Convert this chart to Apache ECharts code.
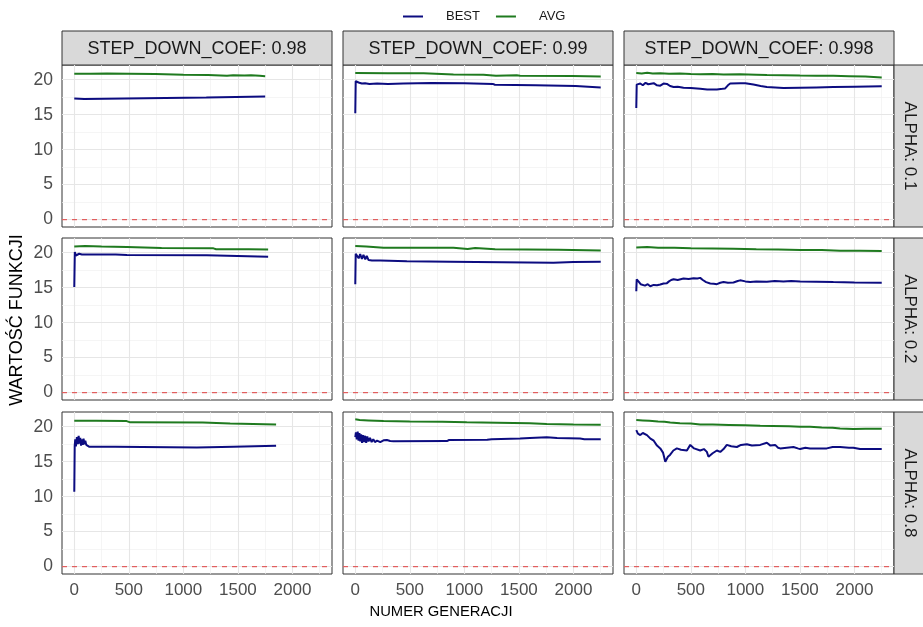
<!DOCTYPE html>
<html>
<head>
<meta charset="utf-8">
<script src="https://cdn.jsdelivr.net/npm/echarts@6/dist/echarts.min.js"></script>
<style>
  html, body { margin: 0; padding: 0; background: #fff; }
  #chart { width: 923px; height: 627px; }
</style>
</head>
<body>
<div id="chart"></div>
<script>
// Facet levels
const alphaLevels = ['0.1', '0.2', '0.8'];
const coefLevels = ['0.98', '0.99', '0.998'];

// Axis breaks
const xTicks = [0, 500, 1000, 1500, 2000];
const xMinor = [250, 750, 1250, 1750, 2250];
const yTicks = [0, 5, 10, 15, 20];
const yMinor = [2.5, 7.5, 12.5, 17.5];
const refLine = 0;

// ALPHA 0.1
const best_a01_c098 = [[0,17.3],[90,17.25],[100,17.45],[1210,17.45],[1220,17.6],[1750,17.6]];
const avg_a01_c098 = [[0,20.85],[150,20.85],[300,20.88],[500,20.85],[742,20.82],[760,20.72],[1000,20.7],[1227,20.68],[1240,20.58],[1400,20.57],[1456,20.63],[1560,20.6],[1620,20.62],[1700,20.55],[1750,20.5]];
const best_a01_c099 = [[0,15.2],[4,19.8],[30,19.6],[60,19.45],[90,19.5],[130,19.4],[200,19.45],[300,19.4],[440,19.45],[700,19.52],[1000,19.48],[1260,19.4],[1280,19.28],[1650,19.2],[1660,19.12],[2020,19.1],[2030,18.95],[2250,18.9]];
const avg_a01_c099 = [[0,20.95],[300,20.93],[626,20.92],[640,20.76],[900,20.74],[1175,20.72],[1190,20.57],[1290,20.58],[1300,20.66],[1480,20.64],[1511,20.57],[1990,20.52],[2000,20.45],[2250,20.45]];
const best_a01_c0998 = [[0,15.95],[4,19.3],[20,19.5],[37,19.45],[60,19.2],[85,19.55],[110,19.35],[128,19.3],[160,19.5],[190,19.2],[220,19.15],[250,19.45],[281,19.4],[310,19.1],[342,18.95],[380,19.0],[433,18.85],[500,18.8],[586,18.7],[650,18.6],[739,18.6],[790,18.7],[815,18.75],[840,19.2],[861,19.45],[952,19.5],[1000,19.5],[1074,19.3],[1140,19.1],[1197,18.95],[1349,18.8],[1502,18.85],[1650,18.9],[1807,18.95],[2000,19.0],[2250,19.05]];
const avg_a01_c0998 = [[0,20.95],[50,20.9],[100,20.98],[150,20.88],[220,20.92],[300,20.85],[400,20.88],[500,20.8],[586,20.78],[700,20.82],[800,20.75],[950,20.78],[1100,20.72],[1197,20.68],[1350,20.65],[1500,20.6],[1650,20.58],[1807,20.55],[1950,20.5],[2100,20.45],[2250,20.33]];

// ALPHA 0.2
const best_a02_c098 = [[0,15.1],[5,20.1],[15,19.6],[30,19.55],[45,19.85],[70,19.75],[380,19.75],[482,19.68],[1215,19.62],[1230,19.45],[1777,19.42]];
const avg_a02_c098 = [[0,20.9],[100,20.95],[250,20.88],[482,20.82],[500,20.7],[800,20.68],[1276,20.62],[1300,20.5],[1600,20.48],[1777,20.45]];
const best_a02_c099 = [[0,15.5],[4,19.86],[18,19.7],[31,19.2],[45,19.8],[61,19.1],[75,19.7],[92,19.05],[105,19.55],[122,18.95],[135,19.2],[153,18.9],[229,18.88],[473,18.78],[870,18.7],[880,18.52],[1816,18.55],[1830,18.62],[1999,18.68],[2010,18.72],[2250,18.7]];
const avg_a02_c099 = [[0,20.95],[100,20.9],[259,20.72],[600,20.72],[900,20.7],[910,20.53],[1030,20.52],[1040,20.7],[1099,20.68],[1110,20.55],[1282,20.5],[1290,20.43],[1862,20.42],[1870,20.33],[2250,20.3]];
const best_a02_c0998 = [[0,14.5],[4,16.2],[20,15.9],[40,15.5],[57,15.6],[80,15.3],[105,15.5],[128,15.2],[160,15.4],[190,15.35],[220,15.45],[250,15.6],[281,15.65],[300,15.9],[320,16.1],[342,16.2],[380,16.1],[433,16.3],[480,16.25],[525,16.35],[560,16.3],[586,16.4],[610,16.1],[640,15.8],[678,15.6],[710,15.55],[739,15.5],[770,15.7],[800,15.8],[840,15.7],[891,15.75],[930,15.95],[952,16.05],[1000,15.9],[1044,15.8],[1100,15.9],[1197,15.85],[1270,15.95],[1349,15.9],[1420,15.95],[1502,15.9],[1650,15.85],[1807,15.8],[2000,15.75],[2250,15.72]];
const avg_a02_c0998 = [[0,20.76],[100,20.8],[200,20.72],[350,20.7],[500,20.62],[700,20.6],[891,20.57],[1100,20.5],[1300,20.45],[1502,20.38],[1700,20.38],[1868,20.29],[2050,20.27],[2250,20.24]];

// ALPHA 0.8
const best_a08_c098 = [[0,10.7],[4,17.3],[9,18.2],[15,17.2],[24,18.5],[32,17.5],[40,18.7],[48,17.6],[55,18.4],[62,17.3],[70,18.2],[78,17.4],[85,18.3],[93,17.5],[101,18.0],[110,17.4],[120,17.6],[135,17.15],[147,17.2],[375,17.15],[380,17.02],[1124,17.02],[1130,17.14],[1459,17.14],[1470,17.28],[1850,17.28]];
const avg_a08_c098 = [[0,20.86],[200,20.84],[480,20.8],[513,20.62],[1178,20.6],[1190,20.48],[1429,20.46],[1440,20.33],[1850,20.32]];
const best_a08_c099 = [[0,18.5],[6,19.2],[14,18.2],[22,19.3],[30,18.0],[38,19.1],[46,17.9],[54,18.9],[62,17.7],[70,18.8],[80,17.8],[90,18.7],[100,17.7],[110,18.6],[122,17.9],[135,18.4],[150,17.8],[165,18.2],[180,17.8],[200,18.0],[229,17.8],[259,18.05],[290,18.1],[320,17.95],[351,17.93],[840,17.95],[860,18.1],[1209,18.12],[1250,18.2],[1511,18.3],[1600,18.4],[1755,18.48],[1850,18.4],[2061,18.3],[2100,18.2],[2250,18.2]];
const avg_a08_c099 = [[0,21.05],[40,20.95],[120,20.9],[259,20.8],[500,20.75],[800,20.72],[1022,20.62],[1300,20.57],[1600,20.5],[1755,20.38],[2000,20.33],[2250,20.29]];
const best_a08_c0998 = [[0,19.5],[15,19.0],[37,18.8],[60,19.1],[98,18.8],[130,18.3],[160,18.0],[190,17.3],[220,16.9],[245,16.3],[266,15.0],[290,15.7],[311,16.0],[340,16.6],[372,16.9],[410,16.7],[464,16.6],[495,17.4],[530,16.9],[586,16.6],[620,16.8],[647,16.4],[662,15.7],[700,16.2],[739,16.6],[770,16.4],[800,16.8],[830,17.4],[870,17.2],[922,17.1],[960,17.4],[1013,17.5],[1060,17.3],[1136,17.4],[1197,17.7],[1230,17.3],[1273,17.4],[1300,17.0],[1319,16.9],[1380,17.0],[1441,17.1],[1480,16.9],[1502,16.8],[1550,17.0],[1593,16.9],[1650,16.9],[1746,16.9],[1800,17.1],[1868,17.1],[1950,17.0],[1990,17.0],[2051,16.8],[2250,16.8]];
const avg_a08_c0998 = [[0,20.95],[60,20.9],[120,20.85],[200,20.75],[259,20.72],[311,20.6],[400,20.5],[500,20.45],[586,20.33],[700,20.3],[850,20.25],[1000,20.2],[1136,20.14],[1250,20.1],[1400,20.05],[1502,19.98],[1593,20.0],[1700,19.9],[1800,19.85],[1868,19.75],[1990,19.68],[2100,19.72],[2250,19.7]];

const bestByPanel = [
  [best_a01_c098, best_a01_c099, best_a01_c0998],
  [best_a02_c098, best_a02_c099, best_a02_c0998],
  [best_a08_c098, best_a08_c099, best_a08_c0998]
];
const avgByPanel = [
  [avg_a01_c098, avg_a01_c099, avg_a01_c0998],
  [avg_a02_c098, avg_a02_c099, avg_a02_c0998],
  [avg_a08_c098, avg_a08_c099, avg_a08_c0998]
];

// Layout of the facet grid (pixels)
const FONT = "'Liberation Sans', Arial, sans-serif";
const colLeft = [62, 343, 624];
const rowTop = [65, 238, 412];
const panelW = 270, panelH = 162;
const stripH = 34, stripW = 34;
const X_MIN = -112.5, X_MAX = 2362.5;
const Y_MIN = -1.05, Y_MAX = 22.1;

const BEST_COLOR = '#0c0c80';
const AVG_COLOR = '#1f7a1f';
const REF_COLOR = '#e05050';
const BORDER = '#333333';
const majorStyle = () => ({ color: '#e6e6e6', width: 1.1, type: 'solid', opacity: 1 });
const minorStyle = () => ({ color: '#f1f1f1', width: 0.7, type: 'solid', opacity: 1 });
const plainNumber = v => String(v);

const grids = [], xAxes = [], yAxes = [], series = [], graphics = [];

alphaLevels.forEach((alpha, r) => {
  coefLevels.forEach((coef, c) => {
    const idx = r * 3 + c;
    const isBottom = r === alphaLevels.length - 1;
    const isLeft = c === 0;
    grids.push({
      left: colLeft[c], top: rowTop[r], width: panelW, height: panelH,
      show: true, borderColor: BORDER, borderWidth: 1, backgroundColor: '#fff'
    });
    xAxes.push({
      gridIndex: idx, type: 'value', min: X_MIN, max: X_MAX,
      splitLine: { show: false }, axisLine: { show: false },
      axisTick: isBottom ? { show: true, customValues: xTicks, length: 4, lineStyle: { color: BORDER } } : { show: false },
      axisLabel: isBottom ? { show: true, customValues: xTicks, formatter: plainNumber, fontSize: 17, color: '#4d4d4d', margin: 8, fontFamily: FONT } : { show: false }
    });
    yAxes.push({
      gridIndex: idx, type: 'value', min: Y_MIN, max: Y_MAX,
      splitLine: { show: false }, axisLine: { show: false },
      axisTick: isLeft ? { show: true, customValues: yTicks, length: 4, lineStyle: { color: BORDER } } : { show: false },
      axisLabel: isLeft ? { show: true, customValues: yTicks, formatter: plainNumber, fontSize: 17.5, color: '#4d4d4d', margin: 9, fontFamily: FONT } : { show: false }
    });
    // panel background grid (drawn under the data lines)
    const gridLines = []
      .concat(xMinor.map(v => ({ xAxis: v, lineStyle: minorStyle() })))
      .concat(yMinor.map(v => ({ yAxis: v, lineStyle: minorStyle() })))
      .concat(xTicks.map(v => ({ xAxis: v, lineStyle: majorStyle() })))
      .concat(yTicks.map(v => ({ yAxis: v, lineStyle: majorStyle() })));
    series.push({
      name: 'panel-grid', type: 'line', xAxisIndex: idx, yAxisIndex: idx, data: [],
      z: 1, silent: true, color: '#e6e6e6',
      markLine: { z: 1, silent: true, symbol: 'none', label: { show: false }, emphasis: { disabled: true },
                  lineStyle: { color: '#e6e6e6' }, data: gridLines }
    });
    // dashed zero reference across the whole panel
    series.push({
      name: 'zero-ref', type: 'line', xAxisIndex: idx, yAxisIndex: idx,
      data: [[X_MIN, refLine], [X_MAX, refLine]],
      z: 2, silent: true, showSymbol: false, symbol: 'none', color: REF_COLOR,
      lineStyle: { color: REF_COLOR, width: 1.1, type: [5, 5] }, emphasis: { disabled: true }
    });
    series.push({
      name: 'AVG', type: 'line', xAxisIndex: idx, yAxisIndex: idx, data: avgByPanel[r][c],
      showSymbol: false, symbol: 'none', z: 3, color: AVG_COLOR,
      lineStyle: { color: AVG_COLOR, width: 2 }, itemStyle: { color: AVG_COLOR }
    });
    series.push({
      name: 'BEST', type: 'line', xAxisIndex: idx, yAxisIndex: idx, data: bestByPanel[r][c],
      showSymbol: false, symbol: 'none', z: 3, color: BEST_COLOR,
      lineStyle: { color: BEST_COLOR, width: 2 }, itemStyle: { color: BEST_COLOR }
    });
  });
});

// column strips
coefLevels.forEach((coef, c) => {
  graphics.push({
    type: 'group', x: colLeft[c], y: rowTop[0] - stripH,
    children: [
      { type: 'rect', shape: { x: 0, y: 0, width: panelW, height: stripH }, style: { fill: '#d9d9d9', stroke: BORDER, lineWidth: 1 } },
      { type: 'text', x: panelW / 2, y: stripH / 2 + 1, style: { text: 'STEP_DOWN_COEF: ' + coef, font: '18px ' + FONT, fill: '#1a1a1a', align: 'center', verticalAlign: 'middle' } }
    ]
  });
});
// row strips
alphaLevels.forEach((alpha, r) => {
  const sx = colLeft[2] + panelW;
  graphics.push({
    type: 'group', x: sx, y: rowTop[r],
    children: [
      { type: 'rect', shape: { x: 0, y: 0, width: stripW, height: panelH }, style: { fill: '#d9d9d9', stroke: BORDER, lineWidth: 1 } },
      { type: 'text', x: stripW / 2 - 1, y: panelH / 2, rotation: -Math.PI / 2, style: { text: 'ALPHA: ' + alpha, font: '17px ' + FONT, fill: '#1a1a1a', align: 'center', verticalAlign: 'middle' } }
    ]
  });
});
// axis titles
graphics.push({ type: 'text', x: 441, y: 612, style: { text: 'NUMER GENERACJI', font: '14.8px ' + FONT, fill: '#000', align: 'center', verticalAlign: 'middle' } });
graphics.push({ type: 'text', x: 17, y: 320, rotation: Math.PI / 2, style: { text: 'WARTOŚĆ FUNKCJI', font: '18px ' + FONT, fill: '#000', align: 'center', verticalAlign: 'middle' } });

const chart = echarts.init(document.getElementById('chart'), null, { renderer: 'canvas' });
chart.setOption({
  animation: false,
  backgroundColor: '#fff',
  legend: {
    data: ['BEST', 'AVG'], left: 398, top: 5, icon: 'rect', itemWidth: 20, itemHeight: 2, itemGap: 16,
    textStyle: { fontFamily: FONT, fontSize: 13, color: '#1a1a1a', padding: [0, 0, 0, 18] },
    selectedMode: false
  },
  grid: grids,
  xAxis: xAxes,
  yAxis: yAxes,
  series: series,
  graphic: graphics
});
</script>
</body>
</html>
